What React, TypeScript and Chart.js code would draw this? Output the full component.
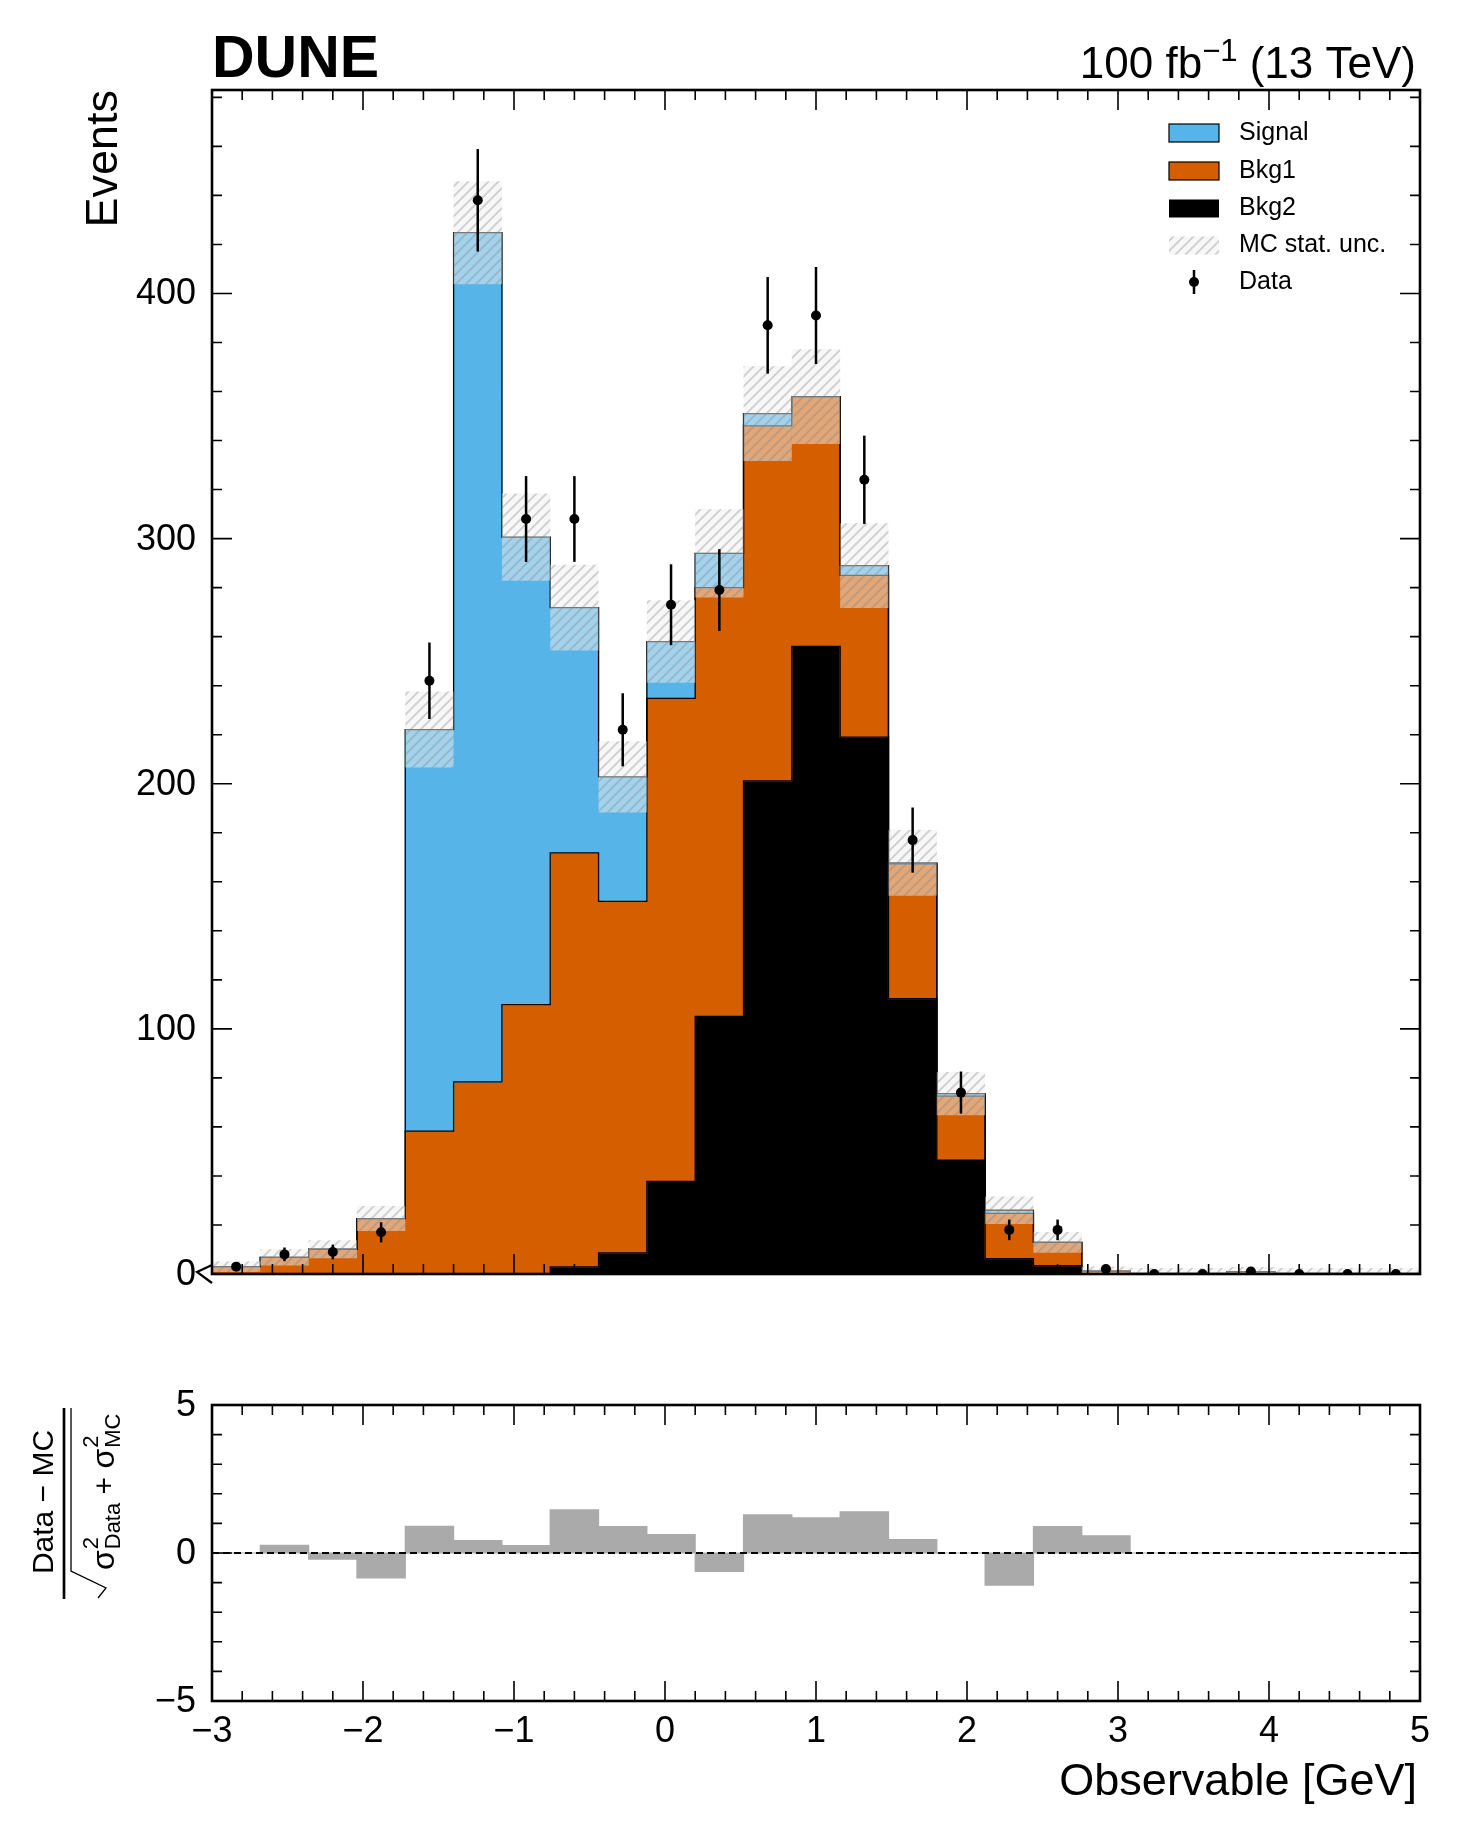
import React, { useEffect, useRef } from 'react';
import { Chart, registerables } from 'chart.js';

Chart.register(...registerables);

const FONT = '"Liberation Sans", Arial, Helvetica, sans-serif';
Chart.defaults.font.family = FONT;

// ---------- data ----------
const binCenters = [-2.84, -2.52, -2.2, -1.88, -1.56, -1.24, -0.92, -0.6, -0.28, 0.04, 0.36, 0.68, 1.0, 1.32, 1.64, 1.96, 2.28, 2.6, 2.92, 3.24, 3.56, 3.88, 4.2, 4.52, 4.84];
const binWidth = 0.32;

const bkg2 = [0, 0, 0, 0, 0, 0, 0, 2.9, 8.6, 37.8, 105.1, 201.2, 256.0, 219.0, 112.3, 46.4, 6.3, 3.4, 0, 0, 0, 0, 0, 0, 0];
const bkg1 = [3.0, 6.8, 10.1, 22.6, 58.3, 78.4, 109.9, 168.9, 143.4, 197.0, 174.9, 144.8, 101.9, 66.0, 55.0, 26.2, 18.4, 9.5, 1.2, 0.2, 0.2, 1.0, 0.2, 0.2, 0.2];
const signal = [0, 0, 0, 0, 163.8, 346.4, 190.7, 100.0, 50.8, 23.2, 14.0, 5.0, 0, 4.0, 0.4, 1.0, 1.3, 0, 0, 0, 0, 0, 0, 0, 0];
const mcUnc = [2.2, 3.3, 3.7, 5.1, 15.5, 21.0, 17.8, 17.5, 14.5, 16.8, 18.0, 19.3, 19.3, 17.3, 13.4, 8.8, 5.6, 4.2, 1.9, 2.2, 2.2, 1.9, 2.2, 2.2, 2.2];

const dataCounts = [3, 8, 9, 17, 242, 438, 308, 308, 222, 273, 279, 387, 391, 324, 177, 74, 18, 18, 2, 0, 0, 1, 0, 0, 0];
const dataErr = [1.7, 2.8, 3.0, 4.1, 15.6, 20.9, 17.5, 17.5, 14.9, 16.5, 16.7, 19.7, 19.8, 18.0, 13.3, 8.6, 4.2, 4.2, 1.4, 0, 0, 1.0, 0, 0, 0];

const pull = [0, 0.26, -0.21, -0.84, 0.9, 0.42, 0.25, 1.46, 0.89, 0.62, -0.62, 1.29, 1.19, 1.39, 0.45, 0, -1.09, 0.89, 0.58, 0, 0, 0, 0, 0, 0];

// ---------- ticks / labels ----------
const xTicks = [-3, -2, -1, 0, 1, 2, 3, 4, 5];
const xTickLabels = ['\u22123', '\u22122', '\u22121', '0', '1', '2', '3', '4', '5'];
const mainYTicks = [0, 100, 200, 300, 400];
const mainYTickLabels = ['0', '100', '200', '300', '400'];
const ratioYTicks = [-5, 0, 5];
const ratioYTickLabels = ['\u22125', '0', '5'];
const legendLabels = ['Signal', 'Bkg1', 'Bkg2', 'MC stat. unc.', 'Data'];

const COLORS = { signal: '#56B4E9', bkg1: '#D55E00', bkg2: '#000000', pull: '#AAAAAA' };

const X_MIN = -3;
const X_MAX = 5;
const MAIN_Y_MAX = 483;

const xMinorTicks = Array.from({ length: 41 }, (_, k) => X_MIN + 0.2 * k);
const mainYMinorTicks = Array.from({ length: 25 }, (_, k) => 20 * k);
const ratioYMinorTicks = Array.from({ length: 11 }, (_, k) => -5 + k);

// ---------- helpers ----------
function makeHatch(): CanvasPattern | string {
  const s = 10;
  const c = document.createElement('canvas');
  c.width = s;
  c.height = s;
  const g = c.getContext('2d');
  if (!g) return 'rgba(240,240,240,0.5)';
  g.fillStyle = 'rgba(240,240,240,0.5)';
  g.fillRect(0, 0, s, s);
  g.strokeStyle = 'rgba(128,128,128,0.35)';
  g.lineWidth = 1.8;
  g.beginPath();
  g.moveTo(0, s);
  g.lineTo(s, 0);
  g.moveTo(-s / 2, s / 2);
  g.lineTo(s / 2, -s / 2);
  g.moveTo(s / 2, s * 1.5);
  g.lineTo(s * 1.5, s / 2);
  g.stroke();
  return g.createPattern(c, 'repeat') || 'rgba(240,240,240,0.5)';
}

function stepPoints(vals: number[]) {
  const pts: { x: number; y: number }[] = [{ x: X_MIN, y: 0 }];
  vals.forEach((v, i) => pts.push({ x: binCenters[i] - binWidth / 2, y: v }));
  pts.push({ x: X_MAX, y: vals[vals.length - 1] });
  pts.push({ x: X_MAX, y: 0 });
  return pts;
}

function drawFrameTicks(chart: any, yMajor: number[], yMinor: number[]) {
  const { ctx, chartArea: a, scales } = chart;
  const x = scales.x;
  const y = scales.y;
  ctx.save();
  ctx.strokeStyle = '#000';
  ctx.lineWidth = 1.6;
  ctx.beginPath();
  const xt = (v: number, len: number) => {
    const px = x.getPixelForValue(v);
    ctx.moveTo(px, a.bottom);
    ctx.lineTo(px, a.bottom - len);
    ctx.moveTo(px, a.top);
    ctx.lineTo(px, a.top + len);
  };
  const yt = (v: number, len: number) => {
    const py = y.getPixelForValue(v);
    ctx.moveTo(a.left, py);
    ctx.lineTo(a.left + len, py);
    ctx.moveTo(a.right, py);
    ctx.lineTo(a.right - len, py);
  };
  xMinorTicks.forEach((v) => xt(v, 10));
  xTicks.forEach((v) => xt(v, 20));
  yMinor.forEach((v) => yt(v, 10));
  yMajor.forEach((v) => yt(v, 20));
  ctx.stroke();
  ctx.lineWidth = 2.6;
  ctx.strokeRect(a.left, a.top, a.right - a.left, a.bottom - a.top);
  ctx.restore();
}

function drawYTickLabels(chart: any, vals: number[], labels: string[]) {
  const { ctx, chartArea: a, scales } = chart;
  ctx.save();
  ctx.fillStyle = '#000';
  ctx.font = `36px ${FONT}`;
  ctx.textAlign = 'right';
  ctx.textBaseline = 'middle';
  vals.forEach((v, i) => {
    ctx.fillText(labels[i], a.left - 16, scales.y.getPixelForValue(v) + 1);
  });
  ctx.restore();
}

// ---------- plugins ----------
const mainDecor = {
  id: 'mainDecor',
  afterDraw(chart: any) {
    const { ctx, chartArea: a } = chart;
    drawFrameTicks(chart, mainYTicks, mainYMinorTicks);
    drawYTickLabels(chart, mainYTicks, mainYTickLabels);

    ctx.save();
    ctx.strokeStyle = '#000';
    ctx.lineWidth = 2.2;
    ctx.beginPath();
    ctx.moveTo(a.left, a.bottom - 9);
    ctx.lineTo(a.left - 15, a.bottom - 2);
    ctx.lineTo(a.left, a.bottom + 9);
    ctx.stroke();

    // experiment label
    ctx.fillStyle = '#000';
    ctx.textBaseline = 'alphabetic';
    ctx.textAlign = 'left';
    ctx.font = `bold 59px ${FONT}`;
    ctx.fillText('DUNE', a.left, 77);

    // luminosity label
    const big = `44px ${FONT}`;
    const sup = `31px ${FONT}`;
    ctx.font = big;
    const w1 = ctx.measureText('100 fb').width;
    const w3 = ctx.measureText(' (13 TeV)').width;
    ctx.font = sup;
    const w2 = ctx.measureText('\u22121').width;
    let x0 = a.right - 4 - (w1 + w2 + w3);
    ctx.font = big;
    ctx.fillText('100 fb', x0, 78);
    x0 += w1;
    ctx.font = sup;
    ctx.fillText('\u22121', x0, 61);
    x0 += w2;
    ctx.font = big;
    ctx.fillText(' (13 TeV)', x0, 78);

    // y title
    ctx.save();
    ctx.translate(117, a.top);
    ctx.rotate(-Math.PI / 2);
    ctx.textAlign = 'right';
    ctx.font = `45px ${FONT}`;
    ctx.fillText('Events', 0, 0);
    ctx.restore();

    // legend
    const rows = [133, 171, 208.5, 245.5, 282];
    const bx = 1169;
    const bw = 50;
    const bh = 18;
    const hatch = chart.$hatch;
    rows.forEach((yc, i) => {
      if (i === 0 || i === 1) {
        ctx.fillStyle = i === 0 ? COLORS.signal : COLORS.bkg1;
        ctx.fillRect(bx, yc - bh / 2, bw, bh);
        ctx.lineWidth = 1.2;
        ctx.strokeStyle = '#000';
        ctx.strokeRect(bx, yc - bh / 2, bw, bh);
      } else if (i === 2) {
        ctx.fillStyle = COLORS.bkg2;
        ctx.fillRect(bx, yc - bh / 2, bw, bh);
      } else if (i === 3) {
        ctx.fillStyle = hatch;
        ctx.fillRect(bx, yc - bh / 2, bw, bh);
      } else {
        ctx.strokeStyle = '#000';
        ctx.lineWidth = 2.5;
        ctx.beginPath();
        ctx.moveTo(bx + bw / 2, yc - 12);
        ctx.lineTo(bx + bw / 2, yc + 12);
        ctx.stroke();
        ctx.fillStyle = '#000';
        ctx.beginPath();
        ctx.arc(bx + bw / 2, yc, 5, 0, Math.PI * 2);
        ctx.fill();
      }
      ctx.fillStyle = '#000';
      ctx.font = `25px ${FONT}`;
      ctx.textAlign = 'left';
      ctx.textBaseline = 'middle';
      ctx.fillText(legendLabels[i], 1239, yc);
    });
    ctx.restore();
  },
};

const ratioDecor = {
  id: 'ratioDecor',
  afterDraw(chart: any) {
    const { ctx, chartArea: a, scales } = chart;
    const x = scales.x;
    const y = scales.y;

    // dashed zero line
    ctx.save();
    ctx.strokeStyle = '#000';
    ctx.lineWidth = 2;
    ctx.setLineDash([7, 4]);
    ctx.beginPath();
    const y0 = y.getPixelForValue(0);
    ctx.moveTo(a.left, y0);
    ctx.lineTo(a.right, y0);
    ctx.stroke();
    ctx.restore();

    drawFrameTicks(chart, ratioYTicks, ratioYMinorTicks);
    drawYTickLabels(chart, ratioYTicks, ratioYTickLabels);

    ctx.save();
    ctx.fillStyle = '#000';
    ctx.font = `36px ${FONT}`;
    ctx.textAlign = 'center';
    ctx.textBaseline = 'alphabetic';
    xTicks.forEach((v, i) => {
      ctx.fillText(xTickLabels[i], x.getPixelForValue(v), a.bottom + 41);
    });

    // x title
    ctx.font = `45px ${FONT}`;
    ctx.textAlign = 'right';
    ctx.fillText('Observable [GeV]', a.right - 3, a.bottom + 94);

    // y title: (Data - MC) / sqrt(sigma_Data^2 + sigma_MC^2)
    ctx.save();
    ctx.translate(53, 182);
    ctx.rotate(-Math.PI / 2);
    ctx.font = `30px ${FONT}`;
    ctx.textAlign = 'center';
    ctx.fillText('Data \u2212 MC', 0, 0);
    ctx.restore();

    // fraction bar
    ctx.strokeStyle = '#000';
    ctx.lineWidth = 2.7;
    ctx.beginPath();
    ctx.moveTo(64, 88);
    ctx.lineTo(64, 279);
    ctx.stroke();

    // radical
    ctx.lineWidth = 1.3;
    ctx.beginPath();
    ctx.moveTo(71, 88);
    ctx.lineTo(71, 251);
    ctx.lineTo(106, 268);
    ctx.lineTo(98, 278);
    ctx.stroke();

    // denominator
    ctx.save();
    ctx.translate(114, 250);
    ctx.rotate(-Math.PI / 2);
    ctx.textAlign = 'left';
    let t = 0;
    const sig = `32px ${FONT}`;
    const small = `22px ${FONT}`;
    const drawSigma = (sub: string) => {
      ctx.font = sig;
      ctx.fillText('\u03c3', t, 0);
      t += ctx.measureText('\u03c3').width + 1;
      ctx.font = small;
      ctx.fillText('2', t, -16);
      const w2 = ctx.measureText('2').width;
      ctx.fillText(sub, t, 6);
      const ws = ctx.measureText(sub).width;
      t += Math.max(w2, ws);
    };
    drawSigma('Data');
    ctx.font = `30px ${FONT}`;
    ctx.fillText(' + ', t, 0);
    t += ctx.measureText(' + ').width;
    drawSigma('MC');
    ctx.restore();

    ctx.restore();
  },
};

export default function App() {
  const refA = useRef<HTMLCanvasElement>(null);
  const refB = useRef<HTMLCanvasElement>(null);

  useEffect(() => {
    if (!refA.current || !refB.current) return;
    const hatch = makeHatch();

    const cum1 = bkg2.map((v) => v);
    const cum2 = bkg2.map((v, i) => v + bkg1[i]);
    const total = cum2.map((v, i) => v + signal[i]);

    const floatBars = (lo: number[], hi: number[]) => binCenters.map((c, i) => ({ x: c, y: [lo[i], hi[i]] }));

    const barCommon = { grouped: false, barPercentage: 1, categoryPercentage: 1, borderWidth: 0, inflateAmount: 0.6 };
    const stepCommon = {
      type: 'line',
      borderColor: '#000',
      borderWidth: 1.3,
      pointRadius: 0,
      stepped: 'before',
      fill: false,
      order: 3,
    };

    const zeros = binCenters.map(() => 0);

    const main = new Chart(refA.current, {
      type: 'bar',
      data: {
        datasets: [
          {
            type: 'line',
            label: 'Data',
            data: binCenters.map((c, i) => ({ x: c, y: dataCounts[i] })),
            showLine: false,
            pointRadius: 5,
            pointBackgroundColor: '#000',
            pointBorderWidth: 0,
            order: 0,
          },
          {
            type: 'bar',
            label: 'Data err',
            data: binCenters
              .map((c, i) => ({ x: c, y: [dataCounts[i] - dataErr[i], dataCounts[i] + dataErr[i]] }))
              .filter((_, i) => dataErr[i] > 0),
            backgroundColor: '#000',
            barThickness: 2.5,
            grouped: false,
            borderWidth: 0,
            inflateAmount: 0,
            order: 1,
          },
          {
            type: 'bar',
            label: 'MC stat. unc.',
            data: floatBars(
              total.map((v, i) => v - mcUnc[i]),
              total.map((v, i) => v + mcUnc[i])
            ),
            backgroundColor: hatch,
            ...barCommon,
            inflateAmount: 0,
            order: 2,
          },
          { ...stepCommon, label: 'total', data: stepPoints(total) },
          { ...stepCommon, label: 'bkg1 edge', data: stepPoints(cum2) },
          { ...stepCommon, label: 'bkg2 edge', data: stepPoints(cum1) },
          { type: 'bar', label: 'Signal', data: floatBars(cum2, total), backgroundColor: COLORS.signal, ...barCommon, order: 4 },
          { type: 'bar', label: 'Bkg1', data: floatBars(cum1, cum2), backgroundColor: COLORS.bkg1, ...barCommon, order: 5 },
          { type: 'bar', label: 'Bkg2', data: floatBars(zeros, cum1), backgroundColor: COLORS.bkg2, ...barCommon, order: 6 },
        ] as any,
      },
      options: {
        animation: false,
        responsive: false,
        devicePixelRatio: 1,
        events: [],
        layout: { padding: { left: 212, right: 41, top: 90, bottom: 46 } },
        scales: {
          x: { type: 'linear', min: X_MIN, max: X_MAX, offset: false, display: false },
          y: { type: 'linear', min: 0, max: MAIN_Y_MAX, display: false },
        },
        plugins: { legend: { display: false }, tooltip: { enabled: false } },
      } as any,
      plugins: [mainDecor],
    });
    (main as any).$hatch = hatch;
    main.draw();

    const ratio = new Chart(refB.current, {
      type: 'bar',
      data: {
        datasets: [
          {
            type: 'bar',
            label: 'pull',
            data: binCenters.map((c, i) => ({ x: c, y: [0, pull[i]] })),
            backgroundColor: COLORS.pull,
            ...barCommon,
          },
        ] as any,
      },
      options: {
        animation: false,
        responsive: false,
        devicePixelRatio: 1,
        events: [],
        layout: { padding: { left: 212, right: 41, top: 85, bottom: 135 } },
        scales: {
          x: { type: 'linear', min: X_MIN, max: X_MAX, offset: false, display: false },
          y: { type: 'linear', min: -5, max: 5, display: false },
        },
        plugins: { legend: { display: false }, tooltip: { enabled: false } },
      } as any,
      plugins: [ratioDecor],
    });

    return () => {
      main.destroy();
      ratio.destroy();
    };
  }, []);

  return (
    <div style={{ position: 'absolute', left: 0, top: 0, width: 1461, height: 1836, background: '#ffffff' }}>
      <canvas ref={refA} width={1461} height={1320} style={{ position: 'absolute', left: 0, top: 0, width: 1461, height: 1320 }} />
      <canvas ref={refB} width={1461} height={516} style={{ position: 'absolute', left: 0, top: 1320, width: 1461, height: 516 }} />
    </div>
  );
}
